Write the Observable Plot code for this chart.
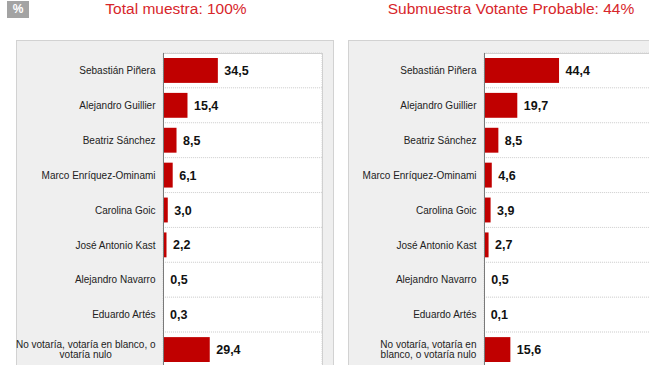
<!DOCTYPE html>
<html>
<head>
<meta charset="utf-8">
<script src="https://cdn.jsdelivr.net/npm/d3@7"></script>
<script src="https://cdn.jsdelivr.net/npm/@observablehq/plot@0.6"></script>
<style>
  body { margin:0; width:649px; height:365px; overflow:hidden; background:#fff; position:relative; font-family:"Liberation Sans", Arial, Helvetica, sans-serif; }
  .pct { position:absolute; left:7px; top:1px; width:22px; height:17px; background:#a3a3a3; color:#fff; font-weight:bold; font-size:12px; text-align:center; line-height:16px; }
  .title { position:absolute; top:0px; color:#d7262b; font-size:15.5px; text-align:center; white-space:nowrap; }
  .panel { position:absolute; top:41px; height:340px; background:#efefef; outline:1px solid #d2d2d2; }
  .chart { position:absolute; top:41px; }
  .chart svg { max-width:none; overflow:visible; }
</style>
</head>
<body>
<div class="pct">%</div>
<div class="title" id="t1" style="left:17px;width:318px;"></div>
<div class="title" id="t2" style="left:349px;width:324px;"></div>
<div class="panel" style="left:17px;width:316px;"></div>
<div class="panel" style="left:349px;width:330px;"></div>
<div class="chart" id="c1" style="left:17px;"></div>
<div class="chart" id="c2" style="left:349px;"></div>
<script>
const categories = [
  "Sebastián Piñera",
  "Alejandro Guillier",
  "Beatriz Sánchez",
  "Marco Enríquez-Ominami",
  "Carolina Goic",
  "José Antonio Kast",
  "Alejandro Navarro",
  "Eduardo Artés",
  "No votaría, votaría en blanco, o votaría nulo"
];
const totalValues = [34.5, 15.4, 8.5, 6.1, 3.0, 2.2, 0.5, 0.3, 29.4];
const probableValues = [44.4, 19.7, 8.5, 4.6, 3.9, 2.7, 0.5, 0.1, 15.6];
const panelTitles = ["Total muestra: 100%", "Submuestra Votante Probable: 44%"];

document.getElementById("t1").textContent = panelTitles[0];
document.getElementById("t2").textContent = panelTitles[1];

const fmt = v => v.toFixed(1).replace(".", ",");

function chart(values, {width, marginLeft, labelWidth}) {
  const data = categories.map((name, i) => ({name, value: values[i]}));
  return Plot.plot({
    width, height: 336,
    marginLeft, marginRight: 11, marginTop: 12, marginBottom: 10,
    style: {background: "transparent", overflow: "visible", fontFamily: "'Liberation Sans', Arial, Helvetica, sans-serif"},
    x: {domain: [0, 100], axis: null},
    y: {domain: categories, padding: 0, round: false, axis: null},
    marks: [
      Plot.cell(data, {y: "name", fill: "white", stroke: "#d6d6d6", strokeDasharray: "1,1"}),
      Plot.frame({stroke: "#d0d0d0"}),
      Plot.barX(data, {y: "name", x: "value", fill: "#c00000", insetTop: 5, insetBottom: 5}),
      Plot.ruleX([0], {stroke: "#7a7a7a"}),
      Plot.text(data, {y: "name", x: 0, text: "name", dx: -8, textAnchor: "end", lineWidth: labelWidth, fontSize: 10, fill: "#222"}),
      Plot.text(data, {y: "name", x: "value", text: d => fmt(d.value), dx: 6, textAnchor: "start", fontSize: 12.5, fontWeight: "bold", fill: "#111"})
    ]
  });
}

const c1 = chart(totalValues, {width: 316, marginLeft: 146, labelWidth: 16.5});
const c2 = chart(probableValues, {width: 315, marginLeft: 135, labelWidth: 12.8});
document.getElementById("c1").append(c1);
document.getElementById("c2").append(c2);

// center multi-line category labels like the original
for (const svg of [c1, c2]) {
  svg.querySelectorAll("text").forEach(t => {
    const spans = t.querySelectorAll("tspan");
    if (spans.length > 1) {
      let w = 0;
      spans.forEach(s => { w = Math.max(w, s.getComputedTextLength()); });
      t.setAttribute("text-anchor", "middle");
      spans.forEach(s => s.setAttribute("x", -w / 2));
    }
  });
}
</script>
</body>
</html>
